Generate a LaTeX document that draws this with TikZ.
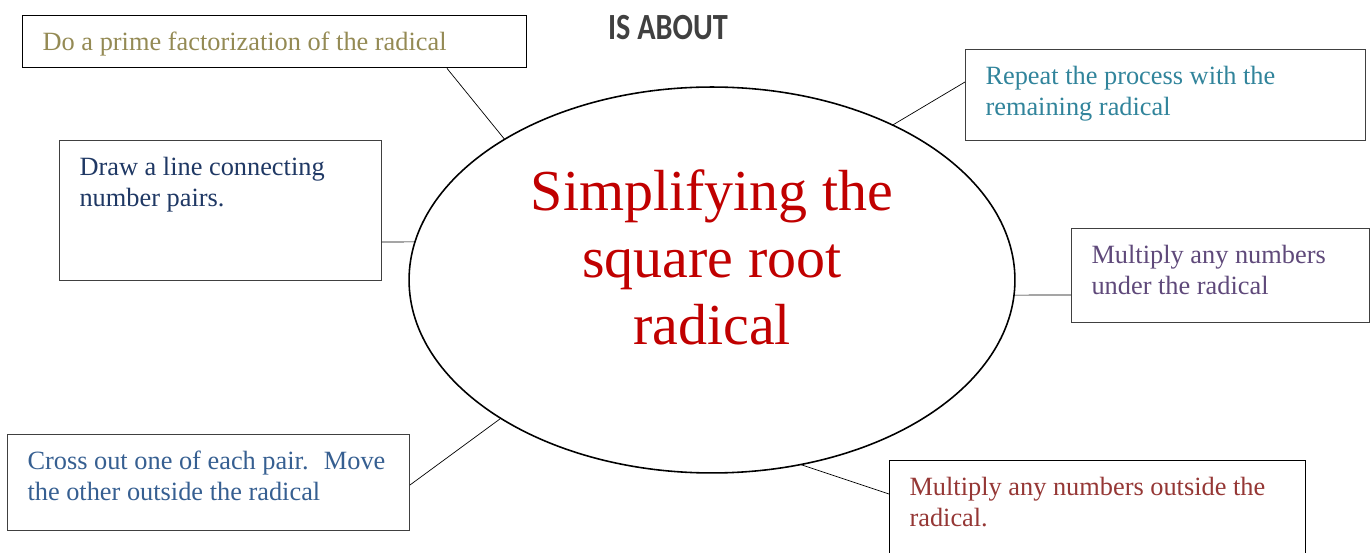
\documentclass[tikz,border=0pt]{standalone}
\usepackage{fontspec}
\setmainfont{Liberation Serif}
\newfontfamily\headfont{Carlito}
\usetikzlibrary{shapes.geometric, calc}

\definecolor{titlered}{HTML}{C00000}
\definecolor{olivetext}{HTML}{948A54}
\definecolor{navytext}{HTML}{1F3864}
\definecolor{tealtext}{HTML}{31849B}
\definecolor{plumtext}{HTML}{5F497A}
\definecolor{bluetext}{HTML}{365F91}
\definecolor{redtext}{HTML}{953735}
\definecolor{headgray}{HTML}{404040}

% text of a note box: width, height, lines
\newcommand{\notetext}[3]{\parbox[c][#2][t]{#1}{\raggedright\leftskip=0.4cm\rule{0pt}{20pt}#3}}

\tikzset{
  note/.style={draw=black!75, line width=0.6pt, anchor=north west, inner sep=0pt,
    font=\fontsize{15}{17.4}\selectfont},
  hub/.style={draw, ellipse, line width=0.9pt, inner sep=0pt,
    minimum width=12.12cm, minimum height=7.72cm},
  link/.style={line width=0.4pt}
}

\begin{document}
\begin{tikzpicture}[x=0.02cm, y=-0.02cm]
  \useasboundingbox (0,0) rectangle (1370,553);

  % Ellipse and its title
  \node[hub] (hub) at (712,280) {};
  \node[anchor=north, align=center, text=titlered,
    font=\fontsize{33}{38.4}\selectfont] (title) at (712,163)
    {Simplifying the\\square root\\radical};
  \node[text=headgray, font=\headfont\bfseries\fontsize{21}{25}\selectfont]
    (about) at (668,28) {\scalebox{0.82}[1]{IS ABOUT}};

  % Note boxes
  \node[note, draw=black, line width=0.8pt, text=olivetext] (prime) at (22,15)
    {\notetext{10.08cm}{1.04cm}{Do a prime factorization of the radical}};
  \node[note, text=navytext] (pairs) at (59,140)
    {\notetext{6.44cm}{2.8cm}{Draw a line connecting\\number pairs.}};
  \node[note, text=tealtext] (repeat) at (965,49)
    {\notetext{8.0cm}{1.82cm}{Repeat the process with the\\remaining radical}};
  \node[note, text=plumtext] (under) at (1071,228)
    {\notetext{5.96cm}{1.88cm}{Multiply any numbers\\under the radical}};
  \node[note, text=bluetext] (cross) at (7,434)
    {\notetext{8.04cm}{1.92cm}{Cross out one of each pair.~ Move\\the other outside the radical}};
  \node[note, draw=black, text=redtext] (outside) at (889,460)
    {\notetext{8.32cm}{2.2cm}{Multiply any numbers outside the\\radical.}};

  % Connectors (ellipse end points taken on the rim, y grows downwards)
  \draw[link] ($(prime.south west)+(425,0)$) -- ($(hub.center)+(-133.2:303 and 193)$);
  \draw[link] ($(pairs.north east)+(0,102)$) -- ($(hub.center)+(-168.6:303 and 193)$);
  \draw[link] ($(repeat.north west)+(0,33)$) -- ($(hub.center)+(-53.4:303 and 193)$);
  \draw[link] ($(under.north west)+(0,67)$) -- ($(hub.center)+(4.5:303 and 193)$);
  \draw[link] ($(cross.north east)+(0,51)$) -- ($(hub.center)+(-225.8:303 and 193)$);
  \draw[link] ($(outside.north west)+(0,34)$) -- ($(hub.center)+(73:303 and 193)$);
\end{tikzpicture}
\end{document}
